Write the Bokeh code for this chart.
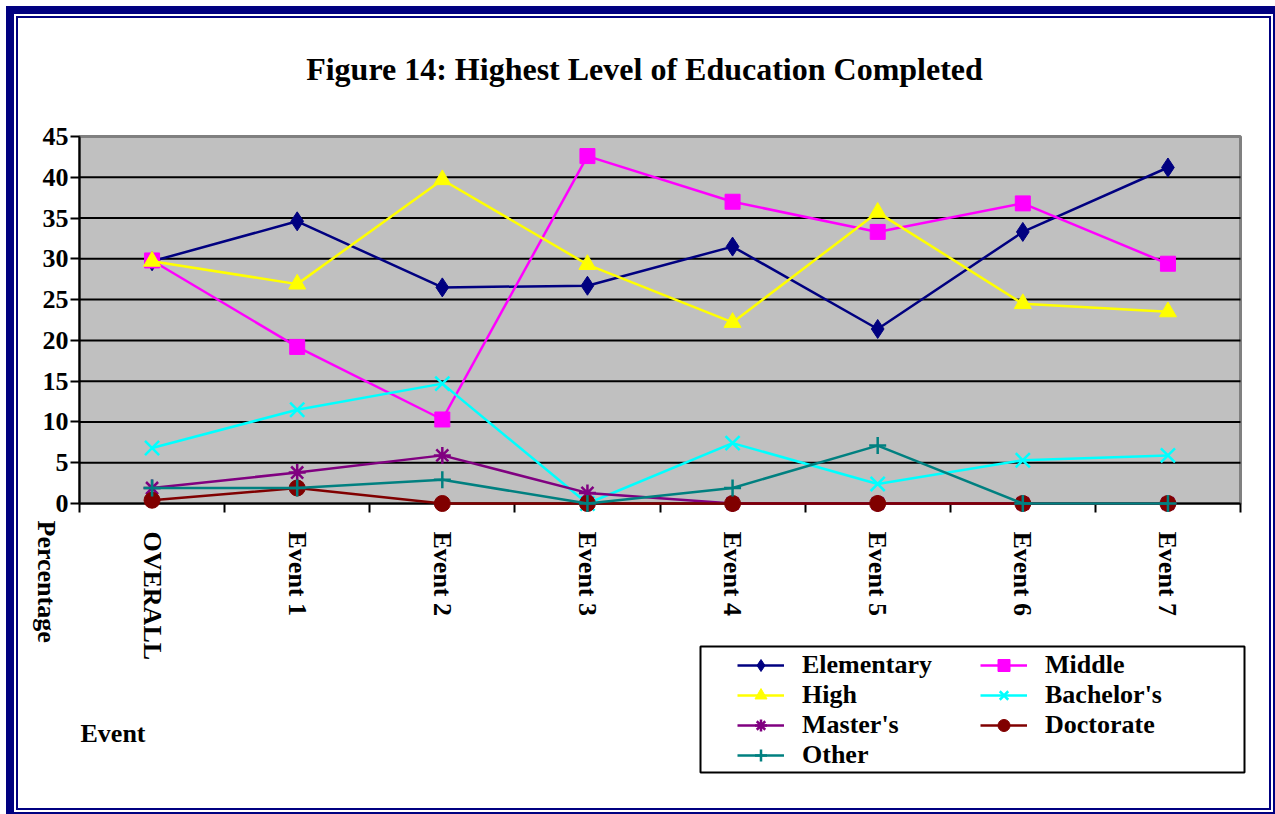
import math
from bokeh.plotting import figure
from bokeh.models import (Range1d, LinearAxis, FixedTicker, BoxAnnotation,
                          Legend, LegendItem, Label)
from bokeh.embed import file_html
from bokeh.resources import INLINE

# ---------------- data ----------------
categories = ["OVERALL", "Event 1", "Event 2", "Event 3", "Event 4", "Event 5", "Event 6", "Event 7"]
elementary = [29.7, 34.6, 26.5, 26.7, 31.5, 21.4, 33.3, 41.2]
middle = [29.8, 19.2, 10.3, 42.6, 37.0, 33.3, 36.8, 29.4]
high = [29.7, 26.9, 39.7, 29.3, 22.2, 35.7, 24.5, 23.5]
bachelors = [6.8, 11.5, 14.7, 0.0, 7.4, 2.4, 5.3, 5.9]
masters = [1.9, 3.8, 5.9, 1.3, 0.0, 0.0, 0.0, 0.0]
doctorate = [0.4, 1.9, 0.0, 0.0, 0.0, 0.0, 0.0, 0.0]
other = [1.9, 1.9, 2.9, 0.0, 1.9, 7.1, 0.0, 0.0]
y_ticks = [0, 5, 10, 15, 20, 25, 30, 35, 40, 45]
grid_ticks = [5, 10, 15, 20, 25, 30, 35, 40]

series = [
    ("Elementary", elementary, "#000080", "diamond", 19),
    ("Middle", middle, "#FF00FF", "square", 15),
    ("High", high, "#FFFF00", "triangle", 17),
    ("Bachelor's", bachelors, "#00FFFF", "x", 20),
    ("Master's", masters, "#800080", "asterisk", 17),
    ("Doctorate", doctorate, "#800000", "circle", 16),
    ("Other", other, "#008080", "cross", 17),
]

FONT = "Liberation Serif"

# ---------------- layout (pixels) ----------------
W, H = 1275, 814
FRAME_L, FRAME_R, FRAME_T, FRAME_B = 26, 1262, 118, 800
PLOT_L, PLOT_R, PLOT_T, PLOT_B = 79, 1240, 136, 503   # grey area: categories 0..n, values 0..45
LEG_L, LEG_R, LEG_T, LEG_B = 700, 1244, 646, 772
n = len(categories)
y_max = y_ticks[-1]
px_x = (PLOT_R - PLOT_L) / n
px_y = (PLOT_B - PLOT_T) / y_max
x_range = Range1d(-(PLOT_L - FRAME_L) / px_x, n + (FRAME_R - PLOT_R) / px_x)
y_range = Range1d(-(FRAME_B - PLOT_B) / px_y, y_max + (PLOT_T - FRAME_T) / px_y)

x_pos = [i + 0.5 for i in range(n)]            # category centres
bounds = list(range(n + 1))                    # category boundaries

p = figure(width=W, height=H, x_range=x_range, y_range=y_range,
           x_axis_type=None, y_axis_type=None,
           output_backend="svg", toolbar_location=None,
           title="Figure 14: Highest Level of Education Completed",
           min_border_left=FRAME_L, min_border_right=W - FRAME_R,
           min_border_top=FRAME_T, min_border_bottom=H - FRAME_B)

p.styles = {"background-color": "white",
            "box-shadow": ("inset 3px 3px 0 3px white, inset 6px 6px 0 8px #000080, "
                           "inset 6px 6px 0 10px white, inset 6px 6px 0 12px #000080")}
p.border_fill_color = None
p.background_fill_color = None
p.outline_line_color = None

p.title.text_font = FONT
p.title.text_font_size = "32px"
p.title.text_font_style = "bold"
p.title.text_color = "black"
p.title.align = "center"
p.title.standoff = 64

# grey plot area
bg = BoxAnnotation(left=0, right=n, bottom=0, top=y_max, fill_color="#C0C0C0", fill_alpha=1.0,
                   line_color="#808080", line_alpha=1.0, line_width=3, level="image")
p.add_layout(bg)

# horizontal grid lines across the grey area
p.segment(x0=0, x1=n, y0=grid_ticks, y1=grid_ticks, line_color="black", line_width=2)

# y axis
yax = LinearAxis(ticker=FixedTicker(ticks=y_ticks), fixed_location=0, bounds=(0, y_max))
yax.axis_line_width = 2
yax.axis_line_color = "black"
yax.major_tick_out = 9
yax.major_tick_in = 0
yax.major_tick_line_width = 2
yax.minor_tick_out = 0
yax.major_label_standoff = 2
yax.major_label_text_font = FONT
yax.major_label_text_font_size = "26px"
yax.major_label_text_font_style = "bold"
yax.major_label_text_color = "black"
p.add_layout(yax, "left")

# x axis: labels at category centres, tick marks on the boundaries
xax = LinearAxis(ticker=FixedTicker(ticks=x_pos, minor_ticks=bounds), fixed_location=0,
                 bounds=(0, n))
xax.major_label_overrides = {x: c for x, c in zip(x_pos, categories)}
xax.axis_line_width = 2
xax.axis_line_color = "black"
xax.major_tick_out = 0
xax.major_tick_in = 0
xax.major_tick_line_color = None
xax.minor_tick_out = 9
xax.minor_tick_in = 0
xax.minor_tick_line_width = 2
xax.minor_tick_line_color = "black"
xax.major_label_orientation = -math.pi / 2
xax.major_label_standoff = 19
xax.major_label_text_font = FONT
xax.major_label_text_font_size = "26px"
xax.major_label_text_font_style = "bold"
xax.major_label_text_color = "black"
xax.level = "underlay"
p.add_layout(xax, "below")

# series
items = {}
for name, vals, color, marker, size in series:
    lr = p.line(x=x_pos, y=vals, line_color=color, line_width=2.5)
    if marker in ("x", "asterisk", "cross"):
        sr = p.scatter(x=x_pos, y=vals, marker=marker, size=size,
                       line_color=color, line_width=2.5, fill_color=None)
    else:
        sr = p.scatter(x=x_pos, y=vals, marker=marker, size=size,
                       line_color=color, fill_color=color, line_width=1)
    items[name] = LegendItem(label=name, renderers=[lr, sr])

# legend frame (drawn as a box so it can be wider than the legend's own padding allows)
legend_box = BoxAnnotation(left=(LEG_L - PLOT_L) / px_x, right=(LEG_R - PLOT_L) / px_x,
                           top=(PLOT_B - LEG_T) / px_y, bottom=(PLOT_B - LEG_B) / px_y,
                           fill_color="white", fill_alpha=1.0,
                           line_color="black", line_alpha=1.0, line_width=2)
p.add_layout(legend_box)

order = ["Elementary", "High", "Master's", "Other", "Middle", "Bachelor's", "Doctorate"]
legend = Legend(items=[items[k] for k in order], ncols=2,
                location=(737 - FRAME_L, FRAME_B - 770))
legend.orientation = "vertical"
legend.label_text_font = FONT
legend.label_text_font_size = "26px"
legend.label_text_font_style = "bold"
legend.label_text_color = "black"
legend.glyph_width = 47
legend.glyph_height = 30
legend.label_height = 26
legend.label_width = 178
legend.label_standoff = 18
legend.spacing = 0
legend.padding = 5
legend.margin = 0
legend.border_line_color = None
legend.background_fill_alpha = 0.0
p.add_layout(legend)

# axis titles placed as in the original
p.add_layout(Label(x=46 - FRAME_L, y=FRAME_B - 520, x_units="screen", y_units="screen",
                   text="Percentage", angle=-math.pi / 2, text_align="left",
                   text_baseline="middle", text_font=FONT, text_font_size="26px",
                   text_font_style="bold", text_color="black"))
p.add_layout(Label(x=80 - FRAME_L, y=FRAME_B - 733, x_units="screen", y_units="screen",
                   text="Event", text_align="left", text_baseline="alphabetic",
                   text_font=FONT, text_font_size="26px", text_font_style="bold",
                   text_color="black"))

open("out.html", "w").write(file_html(p, INLINE))
